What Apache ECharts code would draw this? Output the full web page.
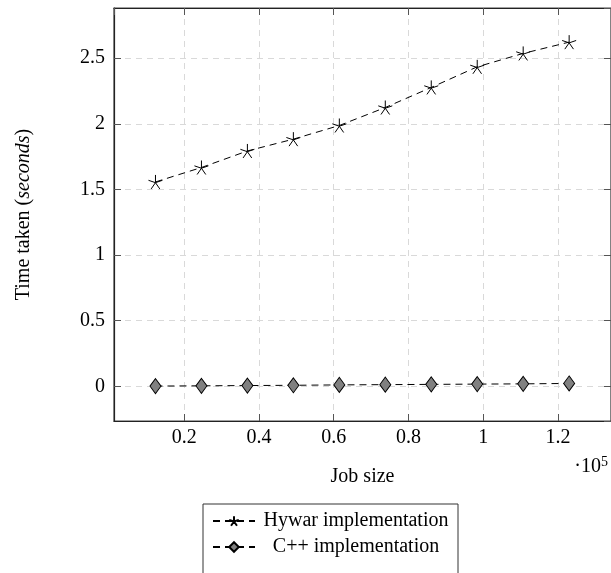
<!DOCTYPE html>
<html>
<head>
<meta charset="utf-8">
<script src="https://cdn.jsdelivr.net/npm/echarts@6/dist/echarts.min.js"></script>
<style>
  html, body { margin: 0; padding: 0; background: #fff; }
  #main { width: 611px; height: 573px; }
</style>
</head>
<body>
<div id="main"></div>
<script>
// job size in units of 10^5
const jobSize = [0.123, 0.246, 0.369, 0.492, 0.615, 0.738, 0.861, 0.984, 1.107, 1.23];
// time taken (seconds)
const hywarTime = [1.557, 1.667, 1.793, 1.883, 1.987, 2.124, 2.277, 2.434, 2.536, 2.622];
const cppTime = [0.002, 0.004, 0.006, 0.008, 0.011, 0.013, 0.015, 0.017, 0.019, 0.022];
const seriesNames = ['Hywar implementation', 'C++ implementation'];

const FONT = 'Liberation Serif';
const FS = 20;
// 5-armed asterisk like the pgfplots "star" mark
const starPath = 'path://M0,-10L0,0M9.51,-3.09L0,0M5.88,8.09L0,0M-5.88,8.09L0,0M-9.51,-3.09L0,0';

function pairs(xs, ys) {
  return xs.map((x, i) => [x, ys[i]]);
}

const chart = echarts.init(document.getElementById('main'), null, { renderer: 'canvas' });

const xRange = { min: 0.012, max: 1.342 };
const yRange = { min: -0.264, max: 2.882 };

const tickStyle = { show: true, inside: true, length: 7, lineStyle: { color: '#555', width: 1 } };
const boxLine = { show: true, onZero: false, lineStyle: { color: '#222', width: 1.2 } };
const gridLine = { show: true, lineStyle: { color: '#d9d9d9', type: [6, 5], width: 1 } };

chart.setOption({
  animation: false,
  textStyle: { fontFamily: FONT },
  grid: {
    left: 114, top: 8, right: -2, bottom: 152, containLabel: false,
    show: true, borderColor: '#444', borderWidth: 1.2, backgroundColor: 'transparent'
  },
  xAxis: [{
    type: 'value',
    min: xRange.min, max: xRange.max,
    splitNumber: 7,
    axisLine: boxLine,
    axisTick: tickStyle,
    axisLabel: { fontFamily: FONT, fontSize: FS, color: '#000', margin: 7, showMinLabel: false, showMaxLabel: false },
    splitLine: gridLine,
    name: 'Job size',
    nameLocation: 'middle',
    nameGap: 46,
    nameTextStyle: { fontFamily: FONT, fontSize: FS, color: '#000' }
  }, {
    type: 'value', position: 'top',
    min: xRange.min, max: xRange.max,
    splitNumber: 7,
    axisLine: boxLine,
    axisTick: tickStyle,
    axisLabel: { show: false },
    splitLine: { show: false }
  }],
  yAxis: [{
    type: 'value',
    min: yRange.min, max: yRange.max,
    splitNumber: 6,
    axisLine: boxLine,
    axisTick: tickStyle,
    axisLabel: { fontFamily: FONT, fontSize: FS, color: '#000', margin: 9, showMinLabel: false, showMaxLabel: false },
    splitLine: gridLine,
    name: '{n|Time taken (}{i|seconds}{n|)}',
    nameLocation: 'middle',
    nameGap: 80,
    nameTextStyle: {
      rich: {
        n: { fontFamily: FONT, fontSize: FS, color: '#000' },
        i: { fontFamily: FONT, fontSize: FS, fontStyle: 'italic', color: '#000' }
      }
    }
  }, {
    type: 'value', position: 'right',
    min: yRange.min, max: yRange.max,
    splitNumber: 6,
    axisLine: boxLine,
    axisTick: tickStyle,
    axisLabel: { show: false },
    splitLine: { show: false }
  }],
  legend: {
    orient: 'vertical',
    left: 203,
    top: 504,
    height: 90,
    padding: [7, 6, 22, 9],
    itemGap: 6,
    itemWidth: 42,
    itemHeight: 12,
    borderColor: '#333',
    borderWidth: 1,
    borderRadius: 0,
    data: seriesNames,
    formatter: name => '{t|' + name + '}',
    textStyle: {
      rich: { t: { fontFamily: FONT, fontSize: FS, lineHeight: 22, color: '#000', width: 192, align: 'center' } }
    }
  },
  graphic: [{
    type: 'text',
    right: 3,
    top: 455,
    style: {
      text: '·10{s|5}',
      fontFamily: FONT,
      fontSize: FS,
      fill: '#000',
      rich: { s: { fontFamily: FONT, fontSize: 14, verticalAlign: 'top', padding: [0, 0, 10, 0] } }
    }
  }],
  series: [{
    name: seriesNames[0],
    type: 'line',
    data: pairs(jobSize, hywarTime),
    symbol: starPath,
    symbolSize: 14,
    lineStyle: { color: '#000', width: 1, type: [7, 5] },
    itemStyle: { color: '#000', borderColor: '#000', borderWidth: 1 }
  }, {
    name: seriesNames[1],
    type: 'line',
    data: pairs(jobSize, cppTime),
    symbol: 'diamond',
    symbolSize: [11, 15],
    lineStyle: { color: '#000', width: 1, type: [7, 5] },
    itemStyle: { color: '#808080', borderColor: '#000', borderWidth: 1 }
  }]
});
</script>
</body>
</html>
